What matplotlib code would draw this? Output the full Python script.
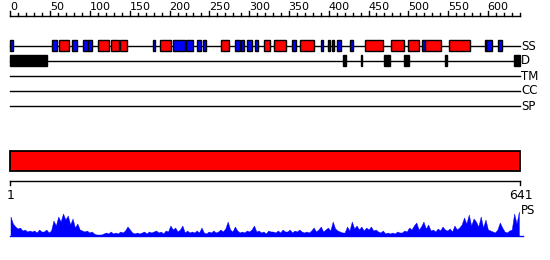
import numpy as np
import matplotlib
matplotlib.use("Agg")
import matplotlib.pyplot as plt

# protein length
seq_len = 641

# secondary structure (residue start, end)
helix_start = [61, 110, 126, 138, 188, 265, 319, 331, 364, 446, 478, 500, 521, 551, 596]
helix_end   = [73, 124, 136, 146, 202, 275, 326, 346, 382, 468, 494, 514, 541, 577, 598]
strand_start = [0, 52, 77, 91, 98, 179, 204, 221, 234, 242, 282, 290, 297, 307, 354, 390, 399, 404, 410, 427, 517, 598, 613]
strand_end   = [3, 59, 83, 97, 102, 182, 219, 230, 240, 246, 288, 293, 303, 311, 359, 393, 402, 407, 416, 430, 521, 605, 618]

# disordered regions
dis_start = [0, 418, 440, 470, 494, 546, 633]
dis_end   = [46, 422, 442, 477, 501, 548, 641]

# profile (PS) heights, every 3 residues
ps_res = list(range(0, 641, 3))
ps_val = [19, 12, 9, 7, 8, 5, 6, 4, 5, 4,
          5, 3, 6, 4, 4, 6, 3, 5, 15, 10,
          19, 14, 22, 16, 20, 11, 17, 8, 12, 6,
          5, 4, 5, 3, 4, 2, 1, 1, 1, 2,
          3, 2, 4, 2, 3, 2, 4, 3, 5, 9,
          6, 3, 2, 3, 2, 3, 4, 2, 4, 3,
          4, 5, 3, 4, 2, 5, 4, 10, 6, 8,
          4, 6, 10, 3, 5, 3, 4, 3, 5, 3,
          8, 3, 2, 4, 3, 5, 3, 4, 6, 4,
          7, 14, 6, 4, 9, 5, 3, 4, 3, 5,
          4, 6, 10, 4, 5, 3, 4, 2, 5, 4,
          4, 3, 5, 3, 6, 4, 4, 6, 3, 5,
          4, 6, 4, 3, 4, 3, 5, 8, 4, 6,
          9, 4, 6, 8, 5, 14, 7, 5, 4, 3,
          3, 9, 5, 14, 7, 10, 6, 9, 5, 8,
          6, 9, 5, 6, 4, 3, 5, 2, 3, 2,
          3, 2, 4, 3, 3, 5, 4, 8, 6, 10,
          13, 6, 9, 14, 7, 11, 5, 6, 4, 7,
          5, 9, 6, 5, 7, 4, 10, 6, 8, 11,
          18, 12, 21, 10, 17, 14, 9, 19, 8, 16,
          6, 5, 4, 3, 6, 13, 8, 4, 3, 5,
          6, 22, 12, 24]

ruler_major = list(range(0, 641, 50))
ruler_minor = list(range(0, 641, 10))
track_names = ["SS", "D", "TM", "CC", "SP"]

# layout (pixel rows)
y_ruler = 15.5
track_y = [45.5, 60.5, 75.5, 90.5, 105.5]
box_h = 11
bar_top, bar_bot = 150.5, 170.5
y_ruler2 = 180.5
ps_base = 235.5

fig = plt.figure(figsize=(5.5, 2.6), dpi=100)
ax = fig.add_axes([0, 0, 1, 1])
px = 510.0 / seq_len
ax.set_xlim(-10.5 / px, (550 - 10.5) / px)
ax.set_ylim(260, 0)
ax.axis("off")

lw = 1.0
# top ruler
ax.plot([0, seq_len - 1], [y_ruler, y_ruler], color="black", lw=lw)
for r in ruler_minor:
    top = y_ruler - 4.5 if r in ruler_major else y_ruler - 3
    ax.plot([r, r], [y_ruler, top], color="black", lw=lw)
for r in ruler_major:
    ax.text(r - 0.5, 7.5, str(r), fontsize=8, ha="left", va="center",
            family="DejaVu Sans")

# tracks
for y, name in zip(track_y, track_names):
    ax.plot([0, seq_len], [y, y], color="black", lw=lw, zorder=1)
    ax.text(seq_len + 0.5, y + 0.5, name, fontsize=8.5, ha="left", va="center",
            family="DejaVu Sans")

for s, e in zip(strand_start, strand_end):
    ax.add_patch(plt.Rectangle((s, track_y[0] - box_h / 2), e - s, box_h,
                               facecolor="#0000ff", edgecolor="black", lw=lw, zorder=2))
for s, e in zip(helix_start, helix_end):
    ax.add_patch(plt.Rectangle((s, track_y[0] - box_h / 2), e - s, box_h,
                               facecolor="#ff0000", edgecolor="black", lw=lw, zorder=2))
for s, e in zip(dis_start, dis_end):
    ax.add_patch(plt.Rectangle((s, track_y[1] - box_h / 2), e - s, box_h,
                               facecolor="black", edgecolor="black", lw=lw, zorder=2))

# domain bar
ax.add_patch(plt.Rectangle((0, bar_top), seq_len, bar_bot - bar_top,
                           facecolor="#ff0000", edgecolor="black", lw=1.3))

# bottom ruler
ax.plot([0, seq_len], [y_ruler2, y_ruler2], color="black", lw=lw)
ax.plot([0, 0], [y_ruler2, y_ruler2 + 4.5], color="black", lw=lw)
ax.plot([seq_len, seq_len], [y_ruler2, y_ruler2 + 4.5], color="black", lw=lw)
ax.text(0, 195.5, "1", fontsize=9, ha="center", va="center", family="DejaVu Sans")
ax.text(seq_len, 195.5, str(seq_len), fontsize=9, ha="center", va="center",
        family="DejaVu Sans")

# PS profile
ps_y = [ps_base - v for v in ps_val]
ax.fill_between(ps_res, ps_base, ps_y, color="#0000ff", lw=0.3)
ax.plot([0, seq_len + 3], [ps_base, ps_base], color="#0000ff", lw=1)
ax.text(seq_len + 1, 211, "PS", fontsize=8.5, ha="left", va="center",
        family="DejaVu Sans")

fig.savefig("out.png", dpi=100)
